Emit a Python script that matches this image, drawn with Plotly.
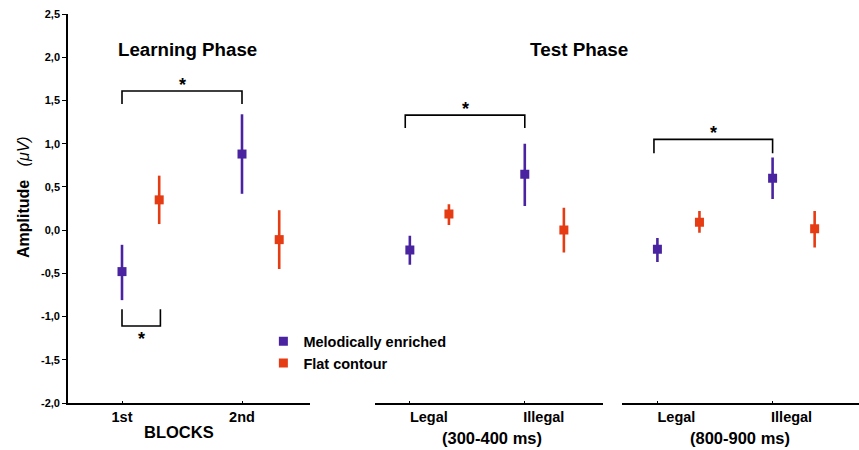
import plotly.graph_objects as go

# ---------------- data ----------------
cat_learning = ["1st", "2nd"]
cat_test = ["Legal", "Illegal"]

# Melodically enriched / Flat contour (mean, upper, lower)
mel_learning = [-0.48, 0.88]
mel_learning_hi = [-0.17, 1.34]
mel_learning_lo = [-0.81, 0.42]
flat_learning = [0.35, -0.11]
flat_learning_hi = [0.63, 0.23]
flat_learning_lo = [0.07, -0.45]

mel_t1 = [-0.23, 0.645]
mel_t1_hi = [-0.065, 1.0]
mel_t1_lo = [-0.40, 0.28]
flat_t1 = [0.185, 0.0]
flat_t1_hi = [0.30, 0.26]
flat_t1_lo = [0.06, -0.26]

mel_t2 = [-0.22, 0.60]
mel_t2_hi = [-0.09, 0.84]
mel_t2_lo = [-0.37, 0.36]
flat_t2 = [0.09, 0.015]
flat_t2_hi = [0.22, 0.22]
flat_t2_lo = [-0.03, -0.20]

y_tickvals = [-2.0, -1.5, -1.0, -0.5, 0.0, 0.5, 1.0, 1.5, 2.0, 2.5]
y_ticktext = ["-2,0", "-1,5", "-1,0", "-0,5", "0,0", "0,5", "1,0", "1,5", "2,0", "2,5"]

# significance brackets: (x_start, x_end, y_bar, y_leg_end, star_y)
bracket_learn_top = dict(x0=1, x1=2, y=1.61, yleg=1.46, star=1.68)
bracket_learn_low = dict(x0=1, x1=1.32, y=-1.11, yleg=-0.915, star=-1.26)
bracket_t1 = dict(x0=0.96, x1=2, y=1.33, yleg=1.18, star=1.40)
bracket_t2 = dict(x0=0.97, x1=2, y=1.05, yleg=0.89, star=1.12)

PURPLE = "#4a24a0"
ORANGE = "#e63c14"
FONT = "Liberation Sans, Arial, sans-serif"

dodge = [0.31, 0.34, 0.365]
positions = [1, 2]

fig = go.Figure()

def add_series(xaxis, means, hi, lo, color, name, showlegend, dx):
    xs = [p + dx for p in positions]
    fig.add_trace(go.Scatter(
        x=xs, y=means, xaxis=xaxis, yaxis="y", mode="markers", name=name,
        showlegend=showlegend, legendgroup=name,
        marker=dict(symbol="square", size=9, color=color),
        error_y=dict(type="data", symmetric=False,
                     array=[h - m for h, m in zip(hi, means)],
                     arrayminus=[m - l for l, m in zip(lo, means)],
                     color=color, thickness=2.6, width=0),
    ))

add_series("x", mel_learning, mel_learning_hi, mel_learning_lo, PURPLE, "<b>Melodically enriched</b>", True, 0)
add_series("x", flat_learning, flat_learning_hi, flat_learning_lo, ORANGE, "<b>Flat contour</b>", True, dodge[0])
add_series("x2", mel_t1, mel_t1_hi, mel_t1_lo, PURPLE, "<b>Melodically enriched</b>", False, 0)
add_series("x2", flat_t1, flat_t1_hi, flat_t1_lo, ORANGE, "<b>Flat contour</b>", False, dodge[1])
add_series("x3", mel_t2, mel_t2_hi, mel_t2_lo, PURPLE, "<b>Melodically enriched</b>", False, 0)
add_series("x3", flat_t2, flat_t2_hi, flat_t2_lo, ORANGE, "<b>Flat contour</b>", False, dodge[2])

def add_bracket(xaxis, b):
    fig.add_trace(go.Scatter(
        x=[b["x0"], b["x0"], b["x1"], b["x1"]],
        y=[b["yleg"], b["y"], b["y"], b["yleg"]],
        xaxis=xaxis, yaxis="y", mode="lines", showlegend=False, hoverinfo="skip",
        line=dict(color="black", width=1.6),
    ))
    fig.add_annotation(x=(b["x0"] + b["x1"]) / 2, y=b["star"], xref=xaxis, yref="y",
                       text="<b>*</b>", showarrow=False,
                       font=dict(family=FONT, size=18, color="black"))

add_bracket("x", bracket_learn_top)
add_bracket("x", bracket_learn_low)
add_bracket("x2", bracket_t1)
add_bracket("x3", bracket_t2)

xcommon = dict(showgrid=False, zeroline=False, showline=True, linecolor="black", linewidth=1.6,
               ticks="inside", ticklen=2, tickcolor="black", anchor="y",
               tickfont=dict(family=FONT, size=14.5, color="black"), tickvals=positions)

fig.update_layout(
    width=859, height=450,
    margin=dict(l=68, r=0, t=14, b=47),
    paper_bgcolor="white", plot_bgcolor="white",
    xaxis=dict(domain=[0, 0.306], range=[0.55, 2.567],
               ticktext=["<b>%s</b>" % c for c in cat_learning], **xcommon),
    xaxis2=dict(domain=[0.388, 0.676], range=[0.696, 2.678], ticklabelshift=19,
                ticktext=["<b>%s</b>" % c for c in cat_test], **xcommon),
    xaxis3=dict(domain=[0.700, 1.0], range=[0.69, 2.75], ticklabelshift=19,
                ticktext=["<b>%s</b>" % c for c in cat_test], **xcommon),
    yaxis=dict(range=[-2.0, 2.5], tickvals=y_tickvals,
               ticktext=["<b>%s</b>" % t for t in y_ticktext],
               showgrid=False, zeroline=False, showline=True, linecolor="black", linewidth=1.6,
               ticks="outside", ticklen=4, tickcolor="black",
               tickfont=dict(family=FONT, size=11, color="black")),
    legend=dict(x=0.247, y=0.2, xanchor="left", yanchor="top", bgcolor="rgba(0,0,0,0)",
                font=dict(family=FONT, size=14.5, color="black"), itemwidth=30, tracegroupgap=0),
    showlegend=True,
)

def px_x(px):
    return (px - 68) / 791

def px_y(py):
    return (403 - py) / 389

titles = [
    ("<b>Learning Phase</b>", 187, 49, 18.7),
    ("<b>Test Phase</b>", 579, 49, 18.9),
    ("<b>BLOCKS</b>", 179, 432, 16.5),
    ("<b>(300-400 ms)</b>", 492, 438, 16.5),
    ("<b>(800-900 ms)</b>", 740, 438, 16.5),
]
for txt, x, y, s in titles:
    fig.add_annotation(x=px_x(x), y=px_y(y), xref="paper", yref="paper", text=txt,
                       showarrow=False, xanchor="center", yanchor="middle",
                       font=dict(family=FONT, size=s, color="black"))

fig.add_annotation(x=px_x(23), y=px_y(197), xref="paper", yref="paper",
                   text="<b>Amplitude</b>   <i>(μV)</i>", textangle=-90, showarrow=False,
                   xanchor="center", yanchor="middle",
                   font=dict(family=FONT, size=16, color="black"))

fig.write_html("out.html", config={"displayModeBar": False},
               post_script="document.body.style.margin='0';document.body.style.overflow='hidden';")
